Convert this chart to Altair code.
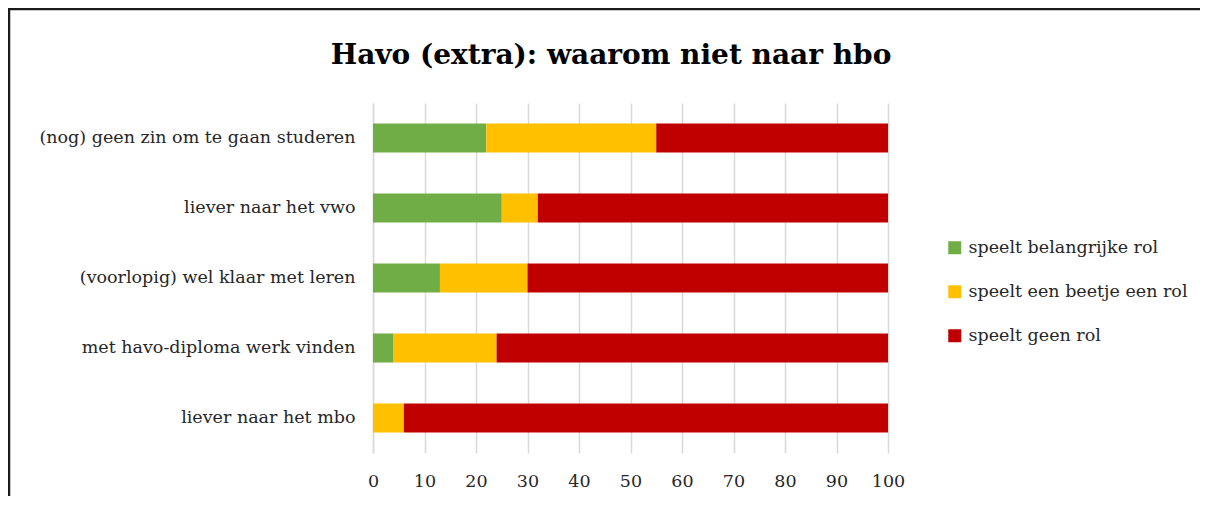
import altair as alt
import pandas as pd

categories = [
    "(nog) geen zin om te gaan studeren",
    "liever naar het vwo",
    "(voorlopig) wel klaar met leren",
    "met havo-diploma werk vinden",
    "liever naar het mbo",
]
series = ["speelt belangrijke rol", "speelt een beetje een rol", "speelt geen rol"]
belangrijk = [22, 25, 13, 4, 0]
beetje = [33, 7, 17, 20, 6]
geen = [45, 68, 70, 76, 94]
colors = ["#70AD47", "#FFC000", "#C00000"]
x_ticks = [0, 10, 20, 30, 40, 50, 60, 70, 80, 90, 100]
title_text = "Havo (extra): waarom niet naar hbo"

rows = []
for i, c in enumerate(categories):
    for j, (s, vals) in enumerate(zip(series, [belangrijk, beetje, geen])):
        rows.append({"categorie": c, "reeks": s, "waarde": vals[i], "volgorde": j})
df = pd.DataFrame(rows)

FONT = "DejaVu Serif"
LSIZE = 17.5

bars = alt.Chart(df).mark_bar().encode(
    y=alt.Y("categorie:N", sort=categories, title=None,
            scale=alt.Scale(paddingInner=0.585, paddingOuter=0.2925),
            axis=alt.Axis(labelFont=FONT, labelFontSize=LSIZE, labelColor="#262626",
                          labelPadding=18, ticks=False, domainColor="#D9D9D9",
                          domainWidth=1.5, labelLimit=400)),
    x=alt.X("waarde:Q", stack="zero", title=None,
            scale=alt.Scale(domain=[0, 100], nice=False),
            axis=alt.Axis(values=x_ticks, labelFont=FONT, labelFontSize=LSIZE,
                          labelColor="#262626", ticks=False, domain=False,
                          grid=True, gridColor="#D9D9D9", gridWidth=1.5,
                          labelPadding=19, labelFlush=False)),
    color=alt.Color("reeks:N", sort=series,
                    scale=alt.Scale(domain=series, range=colors),
                    legend=alt.Legend(title=None, orient="none", legendX=573, legendY=136,
                                      symbolType="square", symbolSize=169,
                                      symbolStrokeWidth=0, labelFont=FONT,
                                      labelFontSize=LSIZE, labelColor="#262626",
                                      rowPadding=25, labelOffset=5, labelLimit=400)),
    order=alt.Order("volgorde:Q"),
)

title = alt.Chart(pd.DataFrame({"t": [title_text]})).mark_text(
    font=FONT, fontSize=28, fontWeight="bold", color="#000000",
    align="center", baseline="alphabetic"
).encode(text="t:N", x=alt.value(238), y=alt.value(-39))

frame = alt.Chart(pd.DataFrame({"a": [0]})).mark_rect(
    fill=None, stroke="#1a1a1a", strokeWidth=2.5, clip=False
).encode(
    x=alt.value(-364), x2=alt.value(1000),
    y=alt.value(-94), y2=alt.value(600),
)

chart = alt.layer(bars, title, frame).properties(
    width=515, height=350,
    autosize=alt.AutoSizeParams(type="none"),
    padding={"left": 365, "top": 95, "right": 312, "bottom": 43},
).configure_view(stroke=None)

chart.save("out.html", embed_options={"renderer": "svg", "actions": False})
